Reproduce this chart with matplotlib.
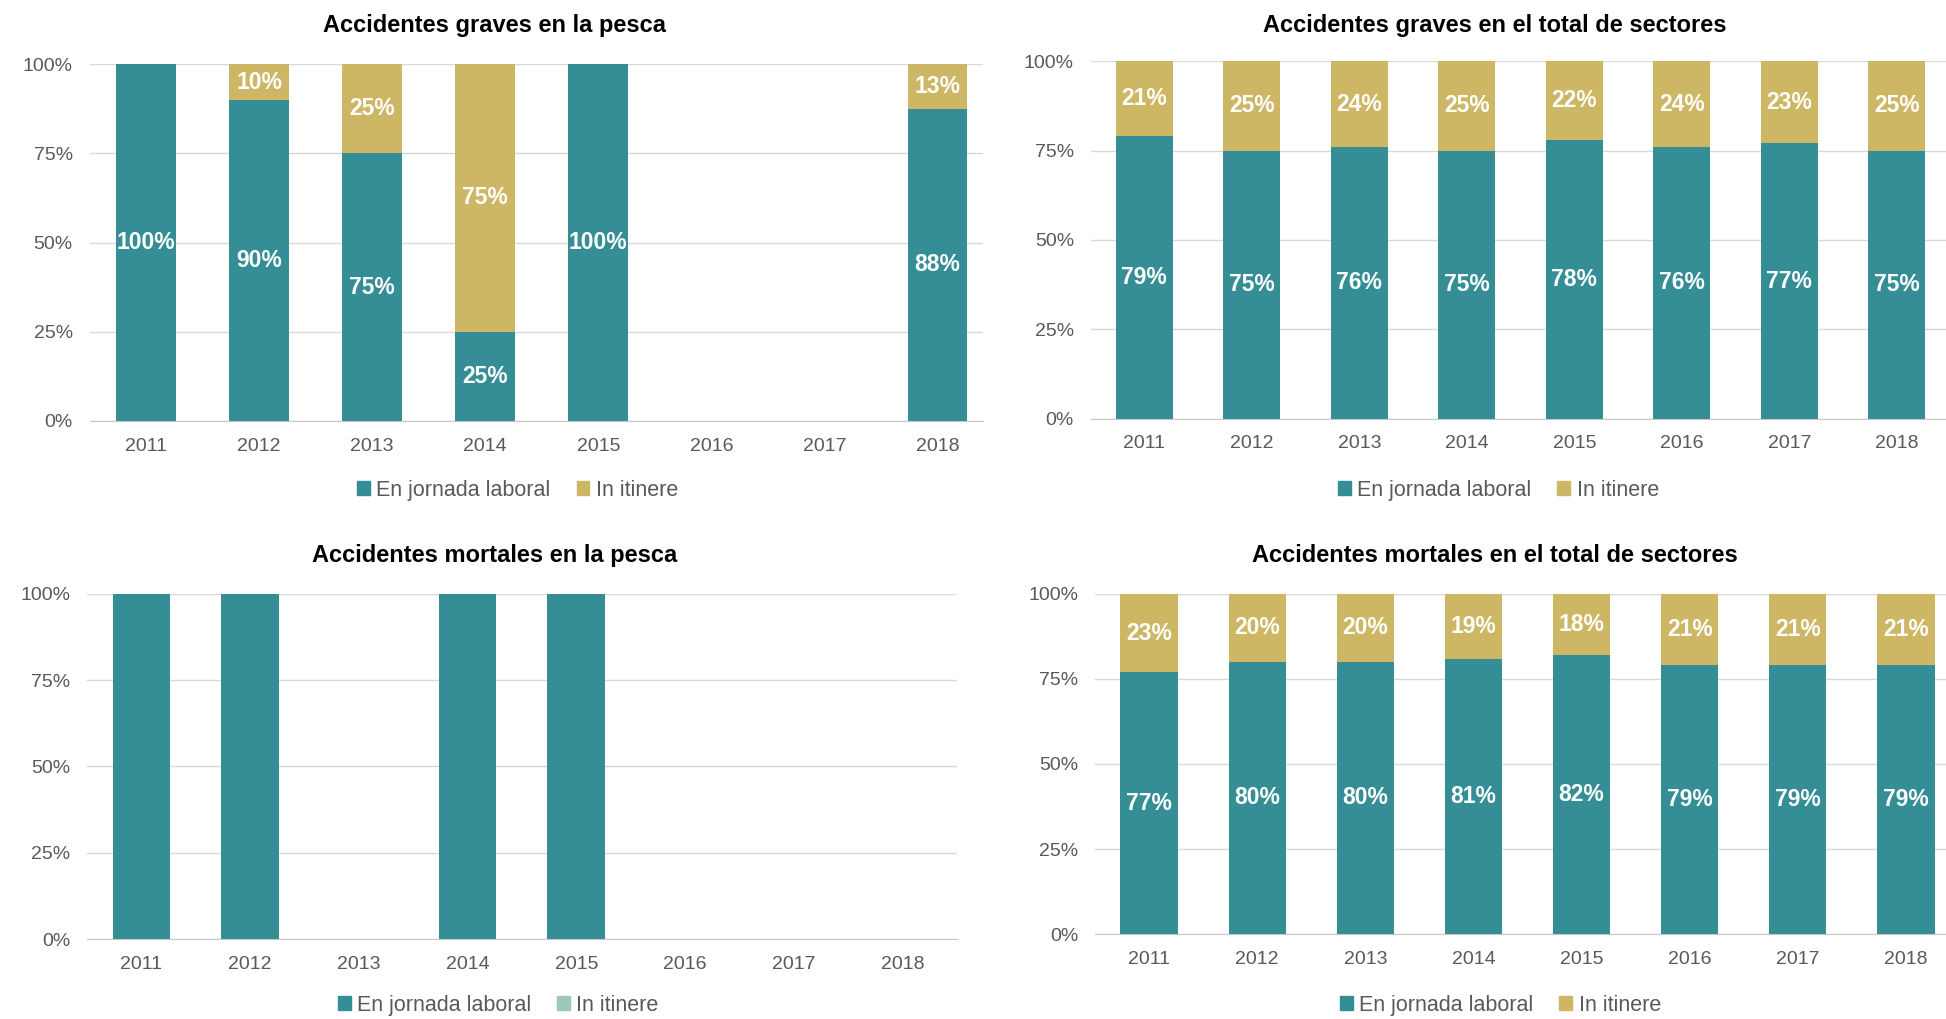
import matplotlib.pyplot as plt
from matplotlib.patches import Patch
import numpy as np

years = ['2011', '2012', '2013', '2014', '2015', '2016', '2017', '2018']

# Accidentes graves en la pesca (%)
graves_pesca_jornada = [100, 90, 75, 25, 100, 0, 0, 87.5]
graves_pesca_itinere = [0, 10, 25, 75, 0, 0, 0, 12.5]

# Accidentes graves en el total de sectores (%)
graves_total_jornada = [79, 75, 76, 75, 78, 76, 77, 75]
graves_total_itinere = [21, 25, 24, 25, 22, 24, 23, 25]

# Accidentes mortales en la pesca (%)
mortales_pesca_jornada = [100, 100, 0, 100, 100, 0, 0, 0]
mortales_pesca_itinere = [0, 0, 0, 0, 0, 0, 0, 0]

# Accidentes mortales en el total de sectores (%)
mortales_total_jornada = [77, 80, 80, 81, 82, 79, 79, 79]
mortales_total_itinere = [23, 20, 20, 19, 18, 21, 21, 21]

teal = "#358e95"
gold = "#cdb664"
light_teal = "#9cc7b9"
grey_text = "#595959"

plt.rcParams['font.family'] = ['Liberation Sans', 'DejaVu Sans']

fig = plt.figure(figsize=(19.46, 10.19), dpi=100)


def panel(rect, jornada, itinere, title, title_xy, legend_xy, labels=True,
          itinere_legend_color=gold, xmax=7.5):
    ax = fig.add_axes(rect)
    x = np.arange(len(years))
    jornada = np.array(jornada, dtype=float)
    itinere = np.array(itinere, dtype=float)
    ax.bar(x, jornada, width=0.53, color=teal, zorder=3)
    ax.bar(x, itinere, width=0.53, bottom=jornada, color=gold, zorder=3)
    if labels:
        for i in range(len(years)):
            if jornada[i] > 0:
                ax.text(x[i], jornada[i] / 2, f"{int(jornada[i] + 0.5)}%", ha='center', va='center',
                        color='white', fontsize=16.5, fontweight='bold', zorder=4)
            if itinere[i] > 0:
                ax.text(x[i], jornada[i] + itinere[i] / 2, f"{int(itinere[i] + 0.5)}%", ha='center',
                        va='center', color='white', fontsize=16.5, fontweight='bold', zorder=4)
    ax.set_xlim(-0.5, xmax)
    ax.set_ylim(0, 100)
    ax.set_xticks(x)
    ax.set_xticklabels(years)
    ax.set_yticks([0, 25, 50, 75, 100])
    ax.set_yticklabels(['0%', '25%', '50%', '75%', '100%'])
    ax.tick_params(axis='both', length=0, labelsize=14, colors=grey_text)
    ax.tick_params(axis='x', pad=12)
    ax.tick_params(axis='y', pad=12)
    ax.grid(axis='y', color='#d9d9d9', linewidth=1, zorder=0)
    for s in ['top', 'right', 'left']:
        ax.spines[s].set_visible(False)
    ax.spines['bottom'].set_color('#c8c8c8')
    fig.text(title_xy[0], title_xy[1], title, ha='center', va='center', fontsize=17,
             fontweight='bold', color='black')
    handles = [Patch(color=teal, label='En jornada laboral'),
               Patch(color=itinere_legend_color, label='In itinere')]
    ax.legend(handles=handles, loc='center', bbox_to_anchor=legend_xy, bbox_transform=fig.transFigure,
              ncol=2, frameon=False, fontsize=15.5, labelcolor=grey_text, handlelength=0.6,
              handleheight=0.6, handletextpad=0.3, columnspacing=1.2)
    return ax


panel([0.046, 0.587, 0.459, 0.350], graves_pesca_jornada, graves_pesca_itinere,
      'Accidentes graves en la pesca', (0.254, 0.975), (0.266, 0.519), xmax=7.4)
panel([0.5604, 0.589, 0.442, 0.351], graves_total_jornada, graves_total_itinere,
      'Accidentes graves en el total de sectores', (0.768, 0.975), (0.770, 0.519))
panel([0.0447, 0.0785, 0.447, 0.3386], mortales_pesca_jornada, mortales_pesca_itinere,
      'Accidentes mortales en la pesca', (0.254, 0.455), (0.256, 0.0137),
      labels=False, itinere_legend_color=light_teal)
panel([0.5627, 0.0834, 0.4445, 0.3337], mortales_total_jornada, mortales_total_itinere,
      'Accidentes mortales en el total de sectores', (0.768, 0.455), (0.771, 0.0137))

fig.savefig('out.png', dpi=100)
plt.close()
